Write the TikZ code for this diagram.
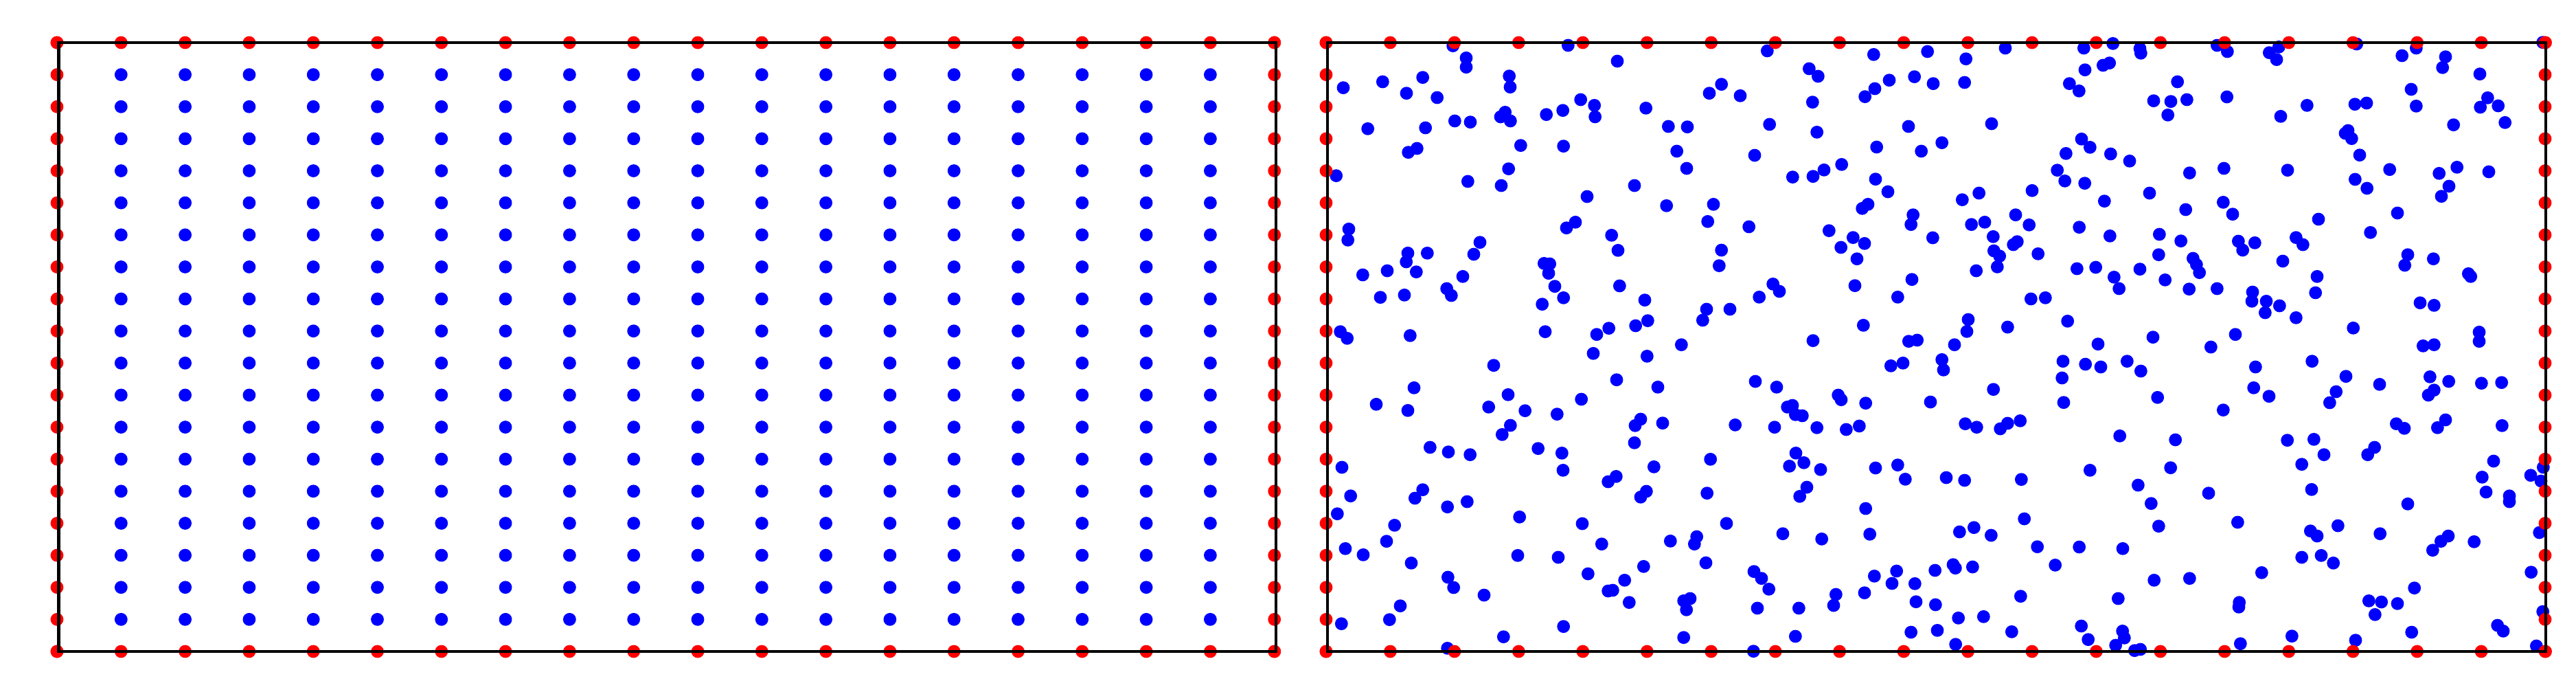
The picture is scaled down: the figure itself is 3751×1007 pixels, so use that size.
\documentclass[tikz,border=0pt]{standalone}
\newcommand\dotr{2.35pt}
\newcommand\dotsin[3]{\foreach \a/\b in {#3}{\fill[bdot] ({#1+\a/3},{#2+\b/3}) circle[radius=\dotr];}}
\begin{document}
\begin{tikzpicture}[x=0.25pt,y=-0.25pt,
  bdot/.style={fill=blue},
  rdot/.style={fill=red},
  frame/.style={draw=black,line width=1.2pt}]
\useasboundingbox (0,0) rectangle (3751,1007);
% ---------- left panel: regular grid ----------
\foreach \i in {1,...,18}{\foreach \j in {1,...,18}{
  \fill[bdot] ({83+93.3*\i},{62+46.63*\j}) circle[radius=\dotr];}}
\foreach \i in {0,...,19}{
  \fill[rdot] ({83+93.3*\i},62) circle[radius=\dotr];
  \fill[rdot] ({83+93.3*\i},948) circle[radius=\dotr];
  \fill[rdot] (83,{62+46.63*\i}) circle[radius=\dotr];
  \fill[rdot] (1855.7,{62+46.63*\i}) circle[radius=\dotr];}
\draw[frame] (85.5,62) rectangle (1858,948);
% ---------- right panel: scattered points ----------
\dotsin{1925}{50}{572/50, 1075/48, 630/103, 630/143, 1290/117, 440/188, 265/207, 93/233, 818/182, 822/230, 369/257, 503/276, 1130/285, 1190/310, 1193/360, 1052/332, 980/350, 800/340, 780/360, 823/378, 580/378, 648/383, 200/412, 452/408, 868/485, 1055/488, 415/498, 377/515, 62/617, 815/587, 637/642, 783/660, 1158/708, 1107/820, 1068/845, 117/850, 113/898, 1265/877, 690/908, 1293/943, 375/955, 460/955, 663/960, 368/993, 970/1000, 995/1002, 990/1043, 178/1050, 285/1032, 412/1037, 615/1057, 545/1110, 565/1140, 1017/1100, 1300/1098, 255/1148, 360/1138, 1055/1150, 962/1178, 80/1298, 110/1327, 385/1315, 975/1298, 1253/1283, 1200/1310}
\dotsin{2375}{50}{595/72, 1060/88, 1295/75, 778/150, 817/183, 395/218, 342/257, 477/268, 1128/200, 1238/185, 1320/215, 1065/237, 1022/272, 793/296, 65/322, 163/402, 246/404, 605/393, 812/427, 1212/402, 1073/492, 1268/510, 200/510, 540/528, 243/585, 920/568, 843/592, 795/620, 706/623, 15/660, 1068/632, 1122/687, 155/748, 360/742, 1035/742, 1010/760, 1232/788, 1223/830, 335/817, 515/840, 865/857, 970/887, 1020/913, 917/930, 1318/888, 395/942, 987/980, 385/1010, 1227/1070, 620/1090, 648/1122, 978/1097, 560/1147, 1165/1147, 60/1160, 330/1200, 432/1200, 313/1248, 73/1250, 20/1272, 1015/1270, 795/1337, 220/1355, 1213/1340, 1250/1335}
\dotsin{2825}{50}{285/60, 628/60, 755/40, 873/62, 877/82, 1210/48, 1255/75, 113/107, 107/210, 633/155, 712/135, 740/125, 565/215, 607/247, 1037/207, 933/290, 1008/293, 1078/285, 995/352, 1253/273, 225/390, 8/473, 618/457, 655/493, 550/520, 745/522, 828/553, 512/593, 545/640, 632/650, 1090/605, 1240/585, 402/682, 170/693, 97/722, 915/693, 718/728, 1237/733, 1073/765, 1278/785, 330/788, 137/830, 195/820, 389/832, 608/842, 232/883, 742/880, 958/873, 1052/902, 1303/903, 1322/942, 337/905, 320/918, 235/945, 260/968, 428/958, 955/962, 1105/978, 1120/1005, 1133/1040, 250/1015, 158/1032, 598/1023, 680/1017, 873/1025, 760/1060, 782/1110, 983/1072, 1088/1112, 1210/1110, 397/1155, 460/1150, 123/1245, 117/1297, 295/1278, 557/1252, 930/1322, 1290/1310, 63/1355, 690/1352, 1183/1365}
\dotsin{3275}{50}{130/55, 88/80, 120/110, 470/42, 730/60, 668/93, 858/98, 845/145, 1008/173, 1283/35, 708/240, 253/310, 462/305, 513/300, 730/313, 1042/277, 1010/318, 1088/312, 1118/385, 138/358, 893/395, 432/420, 420/432, 448/455, 483/527, 168/593, 614/590, 830/607, 908/580, 1047/600, 463/633, 515/672, 873/663, 840/707, 648/780, 303/807, 530/865, 25/910, 205/887, 235/918, 693/962, 680/1008, 805/980, 147/990, 297/1057, 958/1045, 968/1057, 290/1128, 15/1125, 12/1165, 75/1165, 70/1215, 133/1185, 205/1237, 747/1172, 808/1183, 455/1282, 1005/1300, 1005/1340, 760/1360, 808/1355}
\dotsin{1925}{505}{1185/28, 750/80, 1287/143, 402/178, 237/250, 375/277, 813/208, 728/262, 887/278, 1027/293, 1133/228, 823/342, 787/382, 472/438, 552/458, 647/470, 944/443, 1048/463, 1053/538, 87/525, 1285/565, 1250/588, 440/623, 406/660, 125/650, 548/698, 634/675, 67/728, 863/742, 1137/771, 317/778, 282/848, 102/880, 180/907, 1222/860, 855/910, 1032/918, 390/943, 1162/990, 550/1005, 575/1050, 1322/1018, 1250/1065, 1270/1062, 708/1083, 1342/1115, 342/1130, 295/1190, 85/1208, 1055/1220, 793/1265, 548/1315}
\dotsin{2375}{505}{70/40, 117/175, 543/150, 636/175, 1135/82, 1188/70, 905/210, 918/230, 1025/245, 1308/240, 683/262, 705/255, 718/295, 748/300, 42/315, 18/343, 138/332, 455/340, 627/350, 812/352, 940/360, 997/345, 15/418, 720/463, 692/520, 755/505, 828/535, 347/490, 100/523, 1068/528, 1165/515, 1198/577, 67/630, 42/655, 332/638, 768/612, 737/652, 1025/705, 417/770, 663/815, 833/838, 1043/817, 172/847, 287/828, 277/860, 55/958, 327/942, 537/980, 570/1010, 602/1057, 1063/1000, 1160/978, 1140/1032, 1240/1033, 1328/975, 1020/1073, 895/1080, 885/1128, 1245/1112, 1330/1125, 230/1108, 258/1098, 242/1147, 552/1140, 733/1140, 230/1268, 718/1263, 1223/1245, 1338/1237, 535/1328}
\dotsin{2825}{505}{8/55, 15/100, 537/62, 635/75, 702/87, 817/62, 877/105, 533/135, 233/185, 540/242, 950/220, 1237/275, 110/335, 160/350, 263/357, 295/333, 350/322, 785/388, 1028/405, 655/538, 1007/527, 27/570, 107/582, 355/578, 865/603, 1173/638, 922/683, 368/750, 955/782, 1300/765, 85/807, 148/788, 223/822, 425/872, 608/873, 798/880, 57/950, 67/965, 142/960, 503/952, 935/1018, 1090/1010, 352/1088, 778/1098, 1307/1115, 1305/1135, 80/1183, 190/1177, 313/1243, 617/1218, 797/1240, 805/1270, 647/1277, 68/1298, 767/1302, 850/1325, 875/1320, 1312/1295}
\dotsin{3275}{505}{28/87, 20/178, 87/215, 275/62, 423/128, 380/195, 352/243, 570/163, 790/130, 808/188, 783/210, 872/150, 1015/158, 1103/155, 643/335, 678/355, 858/318, 823/352, 1105/343, 167/407, 283/403, 327/470, 548/438, 518/470, 230/512, 1068/498, 1285/525, 1230/560, 1275/585, 1018/568, 1035/633, 1137/650, 1137/675, 273/622, 693/685, 388/780, 268/803, 297/825, 572/815, 870/825, 838/848, 802/887, 983/850, 1268/810, 230/918, 315/910, 368/943, 55/985, 1232/983, 722/1052, 523/1108, 578/1113, 648/1120, 550/1168, 1283/1155, 1085/1215, 1110/1240, 710/1245, 187/1262, 465/1280, 1255/1305}
\foreach \i in {0,...,19}{
  \fill[rdot] ({1931+93.45*\i},62) circle[radius=\dotr];
  \fill[rdot] ({1931+93.45*\i},948) circle[radius=\dotr];
  \fill[rdot] (1931,{62+46.63*\i}) circle[radius=\dotr];
  \fill[rdot] (3706,{62+46.63*\i}) circle[radius=\dotr];}
\draw[frame] (1933,62) rectangle (3707,948);
\end{tikzpicture}
\end{document}
